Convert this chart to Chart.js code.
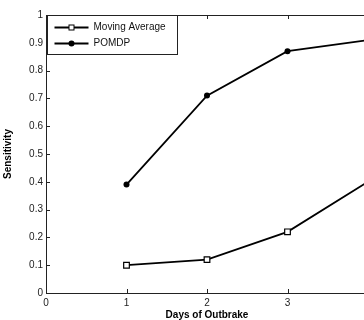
<!DOCTYPE html>
<html>
<head>
<meta charset="utf-8">
<script src="https://cdn.jsdelivr.net/npm/chart.js@4/dist/chart.umd.min.js"></script>
<style>
  html, body { margin: 0; padding: 0; background: #fff; overflow: hidden; }
  #wrap { width: 364px; height: 320px; overflow: hidden; }
</style>
</head>
<body>
<div id="wrap"><canvas id="sensChart" width="400" height="320"></canvas></div>
<script>
// values
const days = [1, 2, 3, 4];
const movingAverage = [0.10, 0.12, 0.22, 0.40];
const pomdp = [0.39, 0.71, 0.87, 0.91];
const xTicks = [0, 1, 2, 3, 4];
const yTicks = [0, 0.1, 0.2, 0.3, 0.4, 0.5, 0.6, 0.7, 0.8, 0.9, 1];

Chart.defaults.font.family = 'Arial, "Liberation Sans", Helvetica, sans-serif';
Chart.defaults.color = '#000';

// matlab style box with inward ticks
const frame = {
    id: 'frame',
    afterDatasetsDraw(chart) {
        const { ctx, chartArea: a, scales } = chart;
        ctx.save();
        ctx.strokeStyle = '#222';
        ctx.lineWidth = 1;
        ctx.beginPath();
        ctx.rect(Math.round(a.left) + 0.5, Math.round(a.top) + 0.5,
            Math.round(a.right - a.left), Math.round(a.bottom - a.top));
        xTicks.forEach(v => {
            const x = Math.round(scales.x.getPixelForValue(v)) + 0.5;
            ctx.moveTo(x, a.bottom); ctx.lineTo(x, a.bottom - 4);
            ctx.moveTo(x, a.top); ctx.lineTo(x, a.top + 4);
        });
        yTicks.forEach(v => {
            const y = Math.round(scales.y.getPixelForValue(v)) + 0.5;
            ctx.moveTo(a.left, y); ctx.lineTo(a.left + 4, y);
            ctx.moveTo(a.right, y); ctx.lineTo(a.right - 4, y);
        });
        ctx.stroke();
        ctx.restore();
    }
};

// legend box in the upper left corner
const boxLegend = {
    id: 'boxLegend',
    afterDraw(chart) {
        const { ctx, chartArea: a } = chart;
        const x0 = Math.round(a.left) + 1.5, y0 = Math.round(a.top) + 0.5;
        ctx.save();
        ctx.fillStyle = '#fff';
        ctx.strokeStyle = '#222';
        ctx.lineWidth = 1;
        ctx.fillRect(x0, y0, 130, 39);
        ctx.strokeRect(x0, y0, 130, 39);
        chart.data.datasets.forEach((ds, i) => {
            const y = y0 + 12 + i * 16;
            ctx.strokeStyle = '#000';
            ctx.lineWidth = 1.8;
            ctx.beginPath();
            ctx.moveTo(x0 + 7, y); ctx.lineTo(x0 + 41, y);
            ctx.stroke();
            const mx = x0 + 24;
            ctx.lineWidth = 1;
            if (ds.pointStyle === 'rect') {
                ctx.fillStyle = '#fff';
                ctx.fillRect(mx - 2.5, y - 2.5, 5, 5);
                ctx.strokeRect(mx - 2.5, y - 2.5, 5, 5);
            } else {
                ctx.fillStyle = '#000';
                ctx.beginPath();
                ctx.arc(mx, y, 3, 0, Math.PI * 2);
                ctx.fill();
            }
            ctx.fillStyle = '#111';
            ctx.font = '10px Arial, "Liberation Sans", sans-serif';
            ctx.textBaseline = 'middle';
            ctx.fillText(ds.label, x0 + 46, y);
        });
        ctx.restore();
    }
};

const chart = new Chart(document.getElementById('sensChart'), {
    type: 'line',
    data: {
        datasets: [{
            label: 'Moving Average',
            data: days.map((d, i) => ({ x: d, y: movingAverage[i] })),
            borderColor: '#000',
            borderWidth: 1.8,
            pointStyle: 'rect',
            pointRadius: 4,
            pointBackgroundColor: '#fff',
            pointBorderColor: '#000',
            pointBorderWidth: 1.2,
            tension: 0
        }, {
            label: 'POMDP',
            data: days.map((d, i) => ({ x: d, y: pomdp[i] })),
            borderColor: '#000',
            borderWidth: 1.8,
            pointStyle: 'circle',
            pointRadius: 3,
            pointBackgroundColor: '#000',
            pointBorderColor: '#000',
            pointBorderWidth: 0,
            tension: 0
        }]
    },
    options: {
        responsive: false,
        animation: false,
        events: [],
        layout: { padding: { top: 15, right: 32, left: 0, bottom: 0 } },
        plugins: { legend: { display: false }, tooltip: { enabled: false } },
        scales: {
            x: {
                type: 'linear',
                min: 0, max: 4,
                afterBuildTicks: s => { s.ticks = xTicks.map(v => ({ value: v })); },
                afterFit: s => { s.height = 27; },
                grid: { display: false, drawTicks: false },
                border: { display: false },
                ticks: { font: { size: 10 }, padding: 4, color: '#222' },
                title: {
                    display: true, text: 'Days of Outbrake',
                    font: { size: 10, weight: 'bold', lineHeight: 1 },
                    padding: 0
                }
            },
            y: {
                min: 0, max: 1,
                afterBuildTicks: s => { s.ticks = yTicks.map(v => ({ value: v })); },
                afterFit: s => { s.width = 46; },
                grid: { display: false, drawTicks: false },
                border: { display: false },
                ticks: { font: { size: 10 }, padding: 3, color: '#222',
                    callback: v => String(+v.toFixed(1)) },
                title: {
                    display: true, text: 'Sensitivity',
                    font: { size: 10, weight: 'bold', lineHeight: 1 },
                    padding: { top: 3, bottom: 0 }
                }
            }
        }
    },
    plugins: [frame, boxLegend]
});
</script>
</body>
</html>
